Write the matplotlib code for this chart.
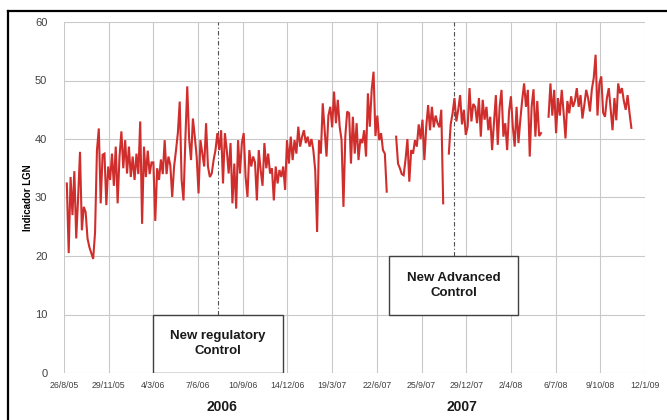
import numpy as np
import pandas as pd
import matplotlib
matplotlib.use("Agg")
import matplotlib.pyplot as plt
from matplotlib import font_manager
from matplotlib.patches import Rectangle
from matplotlib.lines import Line2D
import matplotlib.dates as mdates

NA = np.nan

series_start = "2005-09-01"
sample_step_days = 4
lgn_values = [
    32.4, 20.5, 33.5, 27, 34.5, 23, 30, 37.8, 24.4, 28.4,
    27.5, 23, 21.5, 20.5, 19.5, 24, 38, 41.8, 29, 37.3,
    37.5, 28.7, 35.3, 33, 37.5, 32, 38.7, 29, 37, 41.3,
    35, 39.8, 34.1, 38.7, 33.5, 37, 33, 37.5, 34, 43,
    25.5, 38.7, 33.5, 38, 34, 36, 36, 26, 35, 33,
    36.5, 34, 39.8, 34, 37, 35.5, 30.1, 35.3, 38, 41,
    46.4, 33, 29.5, 40, 49, 40, 36.4, 43.5, 40.4, 37,
    30.7, 39.8, 37.5, 35.3, 42.7, 35.3, 33.5, 34.1, 36.4, 38.1,
    41, 38.1, 41.5, 32.4, 41, 38.1, 34.1, 39.3, 29, 35.8,
    28.1, 39.8, 34.1, 39.3, 41, 33.5, 30.1, 38.1, 35.3, 37,
    36, 29.5, 38.1, 34.7, 32, 39.3, 35, 37.5, 34.1, 35,
    29.5, 35.3, 32.4, 34.7, 33.5, 35.3, 31.3, 39.8, 35.8, 40.4,
    36.4, 39.8, 37.5, 42.1, 38.7, 40.4, 41.5, 39.3, 40.4, 38.7,
    40, 38.1, 34.7, 24.1, 39.8, 37.5, 46.1, 41.5, 37, 44,
    45.5, 42, 48.1, 42.7, 46.7, 42.1, 39.8, 28.4, 40.5, 44.7,
    44.4, 35.8, 43.8, 37.5, 42.7, 36.4, 40, 39.3, 41.5, 37,
    47.8, 42.1, 48.4, 51.5, 40.5, 44, 39.8, 41, 38.1, 37.5,
    31, NA, NA, NA, NA, 40.4, 35.8, 35, 34, 33.8,
    36.5, 40, 32.7, 38.1, 37.5, 39.8, 38.7, 42.5, 40, 43.3,
    36.4, 42.1, 45.8, 41.5, 45.5, 42, 44, 42.7, 42, 45,
    29, NA, NA, 37.5, 42.5, 44.4, 47, 43, 45, 47.5,
    42.5, 45, 40.7, 42.1, 48.7, 43, 46, 45.5, 42.7, 47,
    40.4, 46.7, 43.3, 45.5, 41.5, 43.8, 38.1, 42.7, 47.5, 39,
    45.5, 48.4, 40.4, 42.7, 38.1, 44.7, 47.3, 42.1, 38.7, 45.5,
    39.3, 43.3, 46.7, 49.5, 45.5, 48.4, 37, 45.5, 48.5, 40.4,
    46.5, 40.5, 41, NA, NA, NA, 43.8, 49.5, 44, 48.4,
    41, 47, 44, 48.4, 44.5, 40.1, 46.5, 44.4, 47.3, 45.5,
    46.5, 48.7, 45.5, 47.5, 43.5, 45.8, 48.4, 47, 44.7, 48.5,
    50.4, 54.4, 44, 49.5, 50.7, 44.5, 43.8, 47, 48.7, 45,
    41.5, 47, 43.2, 49.5, 47.8, 48.7, 46.5, 45, 47.5, 44.5,
    41.9,
]

axis_start = "2005-08-26"
axis_end = "2009-01-12"
tick_step_days = 95
y_ticks = [0, 10, 20, 30, 40, 50, 60]

event_dates = ["2006-07-19", "2007-12-02"]
event_labels = ["New regulatory\nControl", "New Advanced\nControl"]
year_labels = ["2006", "2007"]
y_label = "Indicador LGN"

names = {f.name for f in font_manager.fontManager.ttflist}
base_font = "Liberation Sans" if "Liberation Sans" in names else "DejaVu Sans"
narrow_font = "Liberation Sans Narrow" if "Liberation Sans Narrow" in names else base_font
plt.rcParams["font.family"] = [base_font, "DejaVu Sans"]

dates = pd.date_range(series_start, periods=len(lgn_values), freq=f"{sample_step_days}D")
vals = np.array(lgn_values, dtype=float)

fig = plt.figure(figsize=(6.67, 4.2), dpi=100)
ax = fig.add_axes([64 / 667, 1 - 373 / 420, (645 - 64) / 667, (373 - 22) / 420])

x0 = pd.Timestamp(axis_start)
x1 = pd.Timestamp(axis_end)
ticks = pd.date_range(x0, x1, freq=f"{tick_step_days}D")
ax.set_xlim(x0, x1)
ax.set_ylim(0, 60)
ax.set_xticks(ticks)
ax.set_xticklabels([f"{d.day}/{d.month}/{d.year % 100:02d}" for d in ticks],
                   fontsize=6.3, color="#404040", family=[narrow_font, "DejaVu Sans"])
ax.set_yticks(y_ticks)
ax.set_yticklabels([str(v) for v in y_ticks], fontsize=8, color="#404040")
ax.tick_params(axis="both", length=0)
ax.tick_params(axis="x", pad=6)
ax.tick_params(axis="y", pad=12)
ax.grid(True, color="#c9c9c9", lw=0.8)
ax.set_axisbelow(True)
for s in ax.spines.values():
    s.set_visible(False)

ax.plot(dates, vals, color="#d02e2c", lw=1.5, zorder=3, solid_joinstyle="miter")

# event markers
ev = [pd.Timestamp(d) for d in event_dates]
ax.plot([ev[0], ev[0]], [10, 60], color="#505050", lw=0.8, ls=(0, (4, 2, 1, 2)), zorder=2)
ax.plot([ev[1], ev[1]], [20, 60], color="#505050", lw=0.8, ls=(0, (4, 2, 1, 2)), zorder=2)

half = pd.Timedelta(days=138)
for d, lab, y0 in zip(ev, event_labels, [0, 10]):
    ax.add_patch(Rectangle((mdates.date2num(d - half), y0),
                           mdates.date2num(d + half) - mdates.date2num(d - half), 10,
                           facecolor="white", edgecolor="#404040", lw=1.0, zorder=4))
    ax.text(d, y0 + 5, lab, ha="center", va="center", fontsize=9.5,
            fontweight="bold", color="#1a1a1a", zorder=5, linespacing=1.35)

ax.set_ylabel(y_label, fontsize=7, fontweight="bold")
ax.yaxis.set_label_coords((33 - 64) / 581, 0.5)

fig.text(222 / 667, 1 - 407 / 420, year_labels[0], ha="center", va="center",
         fontsize=10, fontweight="bold", color="#1a1a1a")
fig.text(462 / 667, 1 - 407 / 420, year_labels[1], ha="center", va="center",
         fontsize=10, fontweight="bold", color="#1a1a1a")

# outer frame (left and top edges)
fig.add_artist(Line2D([8 / 667, 8 / 667], [0, 1 - 11 / 420], color="black", lw=1.6,
                      transform=fig.transFigure))
fig.add_artist(Line2D([8 / 667, 1], [1 - 11 / 420, 1 - 11 / 420], color="black", lw=1.6,
                      transform=fig.transFigure))

fig.savefig("out.png", dpi=100)
